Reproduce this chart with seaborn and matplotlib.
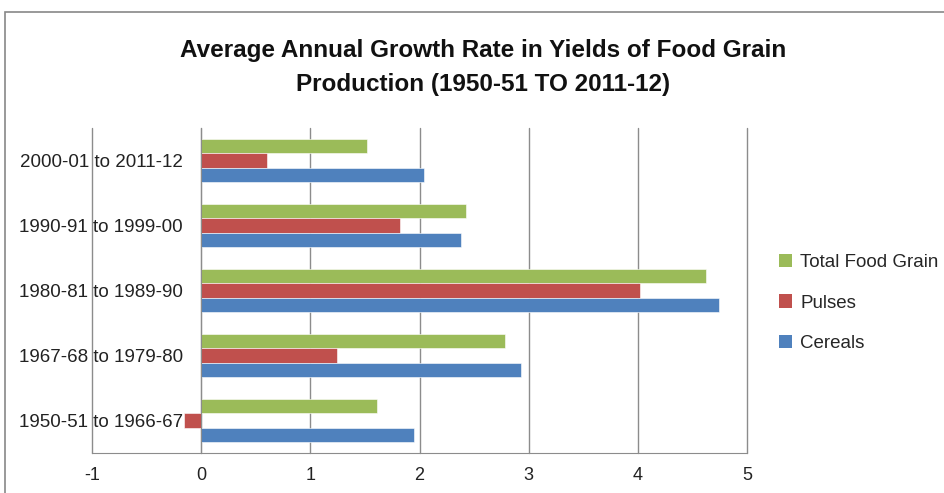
import matplotlib
matplotlib.use("Agg")
import matplotlib.pyplot as plt
import seaborn as sns
import pandas as pd
from matplotlib.patches import Rectangle, Patch
from matplotlib.ticker import FixedLocator

periods = ["2000-01 to 2011-12", "1990-91 to 1999-00", "1980-81 to 1989-90",
           "1967-68 to 1979-80", "1950-51 to 1966-67"]
cereals = [2.04, 2.38, 4.74, 2.93, 1.95]
pulses = [0.60, 1.82, 4.02, 1.24, -0.16]
total_food_grain = [1.52, 2.43, 4.62, 2.78, 1.61]
series_names = ["Total Food Grain", "Pulses", "Cereals"]
x_ticks = [-1, 0, 1, 2, 3, 4, 5]

rows = []
for name, vals in zip(series_names, [total_food_grain, pulses, cereals]):
    for p, v in zip(periods, vals):
        rows.append({"Period": p, "Series": name, "Value": v})
df = pd.DataFrame(rows)

sns.set_style("white")
plt.rcParams['font.family'] = ['Liberation Sans', 'DejaVu Sans']

colors = {"Total Food Grain": "#9BBB59", "Pulses": "#C0504D", "Cereals": "#4F81BD"}

fig = plt.figure(figsize=(9.44, 4.93), dpi=100)
ax = fig.add_axes([92/944, 1-453/493, (747-92)/944, (453-128)/493])

sns.barplot(data=df, y="Period", x="Value", hue="Series", order=periods,
            hue_order=series_names, palette=colors, orient="h", width=0.66,
            ax=ax, legend=False, saturation=1, edgecolor="white", linewidth=0.4)

ax.set_xlim(-1, 5)
ax.set_ylim(4.5, -0.5)
ax.set_xticks(x_ticks)
ax.set_xticklabels([str(t) for t in x_ticks], fontsize=13, color="#222222")
ax.set_xlabel("")
ax.set_ylabel("")

ax.grid(axis="x", color="#8c8c8c", linewidth=1)
for gl in ax.get_xgridlines():
    gl.set_clip_on(False)
ax.set_axisbelow(True)

for s in ["top", "right"]:
    ax.spines[s].set_visible(False)
ax.spines["left"].set_position(("data", 0))
ax.spines["left"].set_color("#8c8c8c")
ax.spines["bottom"].set_color("#8c8c8c")
ax.spines["left"].set_zorder(3)

ax.tick_params(axis="x", length=4, color="#8c8c8c", pad=6, direction="out")
ax.tick_params(axis="y", which="major", length=0, pad=13, labelsize=13.5, labelcolor="#222222")
ax.yaxis.set_minor_locator(FixedLocator([-0.5, 0.5, 1.5, 2.5, 3.5, 4.5]))
ax.tick_params(axis="y", which="minor", length=4, width=1, color="#8c8c8c", direction="out")

fig.text(0.512, 1-50/493, "Average Annual Growth Rate in Yields of Food Grain",
         ha="center", va="center", fontsize=17.5, fontweight="bold", color="#111111")
fig.text(0.512, 1-85/493, "Production (1950-51 TO 2011-12)",
         ha="center", va="center", fontsize=17.5, fontweight="bold", color="#111111")

handles = [Patch(facecolor=colors[n], edgecolor="none") for n in series_names]
fig.legend(handles, series_names, loc="center left", bbox_to_anchor=(762/944, 1-303/493),
           frameon=False, fontsize=13.5, handlelength=0.7, handleheight=0.7,
           handletextpad=0.45, labelspacing=1.25)

fig.patches.append(Rectangle((5/944, -0.1), 1.2, 1-12/493+0.1, transform=fig.transFigure,
                             fill=False, edgecolor="#888888", linewidth=1.2))

fig.savefig("out.png", dpi=100)
